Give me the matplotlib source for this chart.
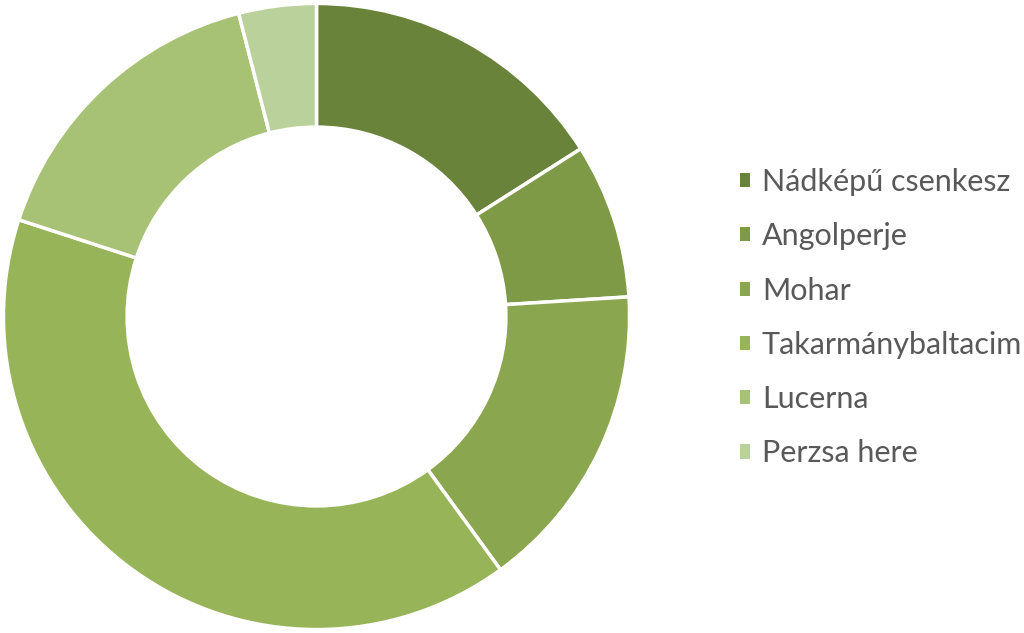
import matplotlib.pyplot as plt

labels = ["Nádképű csenkesz", "Angolperje", "Mohar", "Takarmánybaltacim", "Lucerna", "Perzsa here"]
values = [16, 8, 16, 40, 16, 4]
colors = ["#6A833B", "#7E9A47", "#8AA64E", "#97B458", "#A7C274", "#BBD19B"]

plt.rcParams['font.family'] = ['Lato', 'DejaVu Sans']

fig = plt.figure(figsize=(10.24, 6.33), dpi=100)
ax = fig.add_axes([0, 0, 633 / 1024, 1])

wedges, _ = ax.pie(values, colors=colors, startangle=90, counterclock=False,
                   radius=1, wedgeprops=dict(width=0.395, edgecolor="white", linewidth=2.5))
ax.set_xlim(-1.011, 1.011)
ax.set_ylim(-1.011, 1.011)
ax.set_aspect("equal")
ax.axis("off")

leg = fig.legend(wedges, labels, loc="center left", bbox_to_anchor=(0.708, 0.498),
                 frameon=False, fontsize=22, labelcolor="#595959", borderpad=0,
                 handlelength=0.33, handleheight=0.33, handletextpad=0.38,
                 labelspacing=0.86)
for h in leg.legend_handles:
    h.set_edgecolor("none")

fig.savefig("out.png", dpi=100)
